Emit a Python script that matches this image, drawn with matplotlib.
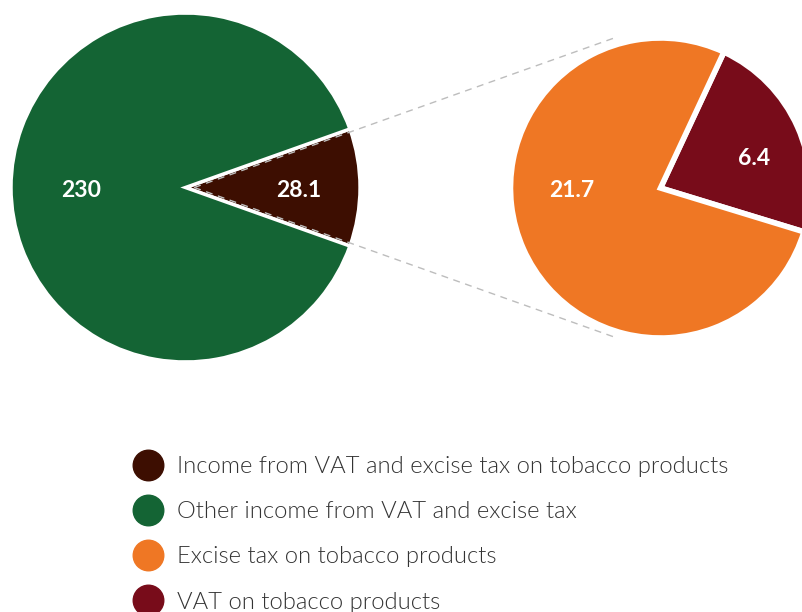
import numpy as np
import matplotlib
matplotlib.use('Agg')
import matplotlib.pyplot as plt
from matplotlib.lines import Line2D

plt.rcParams['font.family'] = ['Lato', 'DejaVu Sans']

# Main pie: tobacco share of VAT + excise income
main_labels = ['Income from VAT and excise tax on tobacco products',
               'Other income from VAT and excise tax']
main_values = [28.1, 230]
main_colors = ['#3d0e01', '#146434']

# Breakdown of the tobacco slice
sub_labels = ['VAT on tobacco products', 'Excise tax on tobacco products']
sub_values = [6.4, 21.7]
sub_colors = ['#780c1a', '#ef7724']

legend_order = [main_labels[0], main_labels[1], sub_labels[1], sub_labels[0]]
legend_colors = [main_colors[0], main_colors[1], sub_colors[1], sub_colors[0]]

W, H = 803, 612
fig = plt.figure(figsize=(W / 100, H / 100), dpi=100)
ax = fig.add_axes([0, 0, 1, 1])
ax.set_xlim(0, W)
ax.set_ylim(0, H)
ax.set_aspect('equal')
ax.axis('off')

# left pie
c1 = (185.5, H - 187.5)
r1 = 174.5
half = 180 * main_values[0] / sum(main_values)
expl = 0.05
wedges1, _ = ax.pie(main_values, colors=main_colors, startangle=-half,
                    center=c1, radius=r1, explode=[expl, 0],
                    wedgeprops=dict(edgecolor='white', linewidth=2.5))

# right pie
c2 = (660.5, H - 188)
r2 = 150
sub_start = -17
wedges2, _ = ax.pie(sub_values, colors=sub_colors, startangle=sub_start,
                    center=c2, radius=r2, explode=[0.02, 0],
                    wedgeprops=dict(edgecolor='white', linewidth=4))
ax.set_xlim(0, W)
ax.set_ylim(0, H)

# value labels
def put_label(center, radius, value, ang, dist, fmt):
    x = center[0] + radius * dist * np.cos(np.radians(ang))
    y = center[1] + radius * dist * np.sin(np.radians(ang)) - 3
    ax.text(x, y, fmt.format(value), color='white', fontsize=16.5,
            fontweight='bold', ha='center', va='center', zorder=5)

apex = (c1[0] + expl * r1, c1[1])
put_label(apex, r1, main_values[0], 0, 0.6, '{:.1f}')
put_label(c1, r1, main_values[1], 180, 0.6, '{:.0f}')
sub_mid = sub_start + 180 * sub_values[0] / sum(sub_values)
put_label(c2, r2, sub_values[0], sub_mid - 5, 0.66, '{:.1f}')
put_label(c2, r2, sub_values[1], 180, 0.59, '{:.1f}')

# dashed connectors along the exploded wedge edges
x_end = 613
for sgn in (1, -1):
    y_end = apex[1] + sgn * (x_end - apex[0]) * np.tan(np.radians(half))
    ax.plot([apex[0], x_end], [apex[1], y_end], color='#bdbdbd',
            linestyle=(0, (5, 4)), linewidth=1, zorder=4)

# legend
handles = [Line2D([], [], marker='o', linestyle='none', markersize=22,
                  markerfacecolor=c, markeredgecolor=c) for c in legend_colors]
leg = ax.legend(handles, legend_order, loc='upper left',
                bbox_to_anchor=(122 / W, 1 - 444 / H), frameon=False,
                fontsize=17.1, handletextpad=0.62, labelspacing=1.02,
                borderpad=0, handlelength=1.2)
for t in leg.get_texts():
    t.set_color('#333333')
    t.set_fontweight(300)

fig.savefig('out.png', dpi=100)
